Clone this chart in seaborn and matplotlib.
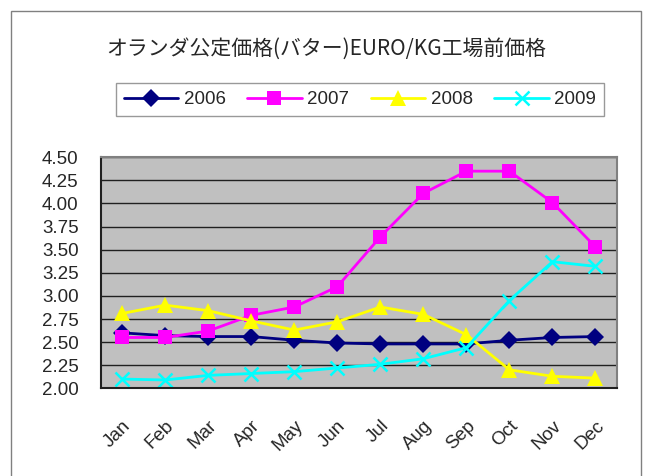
import numpy as np
import pandas as pd
import seaborn as sns
import matplotlib
matplotlib.use("Agg")
import matplotlib.pyplot as plt
from matplotlib.patches import Rectangle
from matplotlib.ticker import FixedLocator
import matplotlib.transforms as mtransforms

months = ["Jan", "Feb", "Mar", "Apr", "May", "Jun", "Jul", "Aug", "Sep", "Oct", "Nov", "Dec"]
years = ["2006", "2007", "2008", "2009"]
v2006 = [2.60, 2.57, 2.56, 2.56, 2.52, 2.49, 2.48, 2.48, 2.48, 2.52, 2.55, 2.56]
v2007 = [2.55, 2.55, 2.62, 2.79, 2.88, 3.10, 3.64, 4.11, 4.35, 4.35, 4.01, 3.53]
v2008 = [2.81, 2.90, 2.84, 2.73, 2.63, 2.72, 2.88, 2.80, 2.58, 2.20, 2.13, 2.11]
v2009 = [2.10, 2.09, 2.14, 2.16, 2.18, 2.22, 2.26, 2.32, 2.44, 2.95, 3.37, 3.32]
yticks = [2.00, 2.25, 2.50, 2.75, 3.00, 3.25, 3.50, 3.75, 4.00, 4.25, 4.50]
title = "オランダ公定価格(バター)EURO/KG工場前価格"

series = {"2006": v2006, "2007": v2007, "2008": v2008, "2009": v2009}
df = pd.DataFrame([(y, m, v) for y in years for m, v in zip(months, series[y])],
                  columns=["year", "month", "value"])

sns.set_theme(style="white")
plt.rcParams["font.family"] = ["Liberation Sans", "Noto Sans CJK JP", "DejaVu Sans"]

colors = {"2006": "#000080", "2007": "#FF00FF", "2008": "#FFFF00", "2009": "#00FFFF"}
mk = {"2006": dict(marker="D", markersize=9, markeredgewidth=0),
      "2007": dict(marker="s", markersize=10, markeredgewidth=0),
      "2008": dict(marker="^", markersize=11, markeredgewidth=0),
      "2009": dict(marker="x", markersize=10, markeredgewidth=1.8)}

fig = plt.figure(figsize=(6.46, 4.76), dpi=100)
fig.patch.set_facecolor("white")
ax = fig.add_axes([100.7 / 646, 1 - 388.3 / 476, (617 - 100.7) / 646, (388.3 - 157.3) / 476])
ax.set_facecolor("#C0C0C0")

for y in years:
    sub = df[df.year == y]
    sns.lineplot(data=sub, x="month", y="value", ax=ax, color=colors[y],
                 linewidth=2.0, markeredgecolor=colors[y], label=y, sort=False, **mk[y])

ax.set_xlim(-0.5, 11.5)
ax.set_ylim(2.0, 4.5)
ax.set_yticks(yticks)
ax.set_yticklabels([f"{t:.2f}" for t in yticks], fontsize=13.5)
ax.yaxis.grid(True, color="#202020", linewidth=1.0)
ax.xaxis.grid(False)
ax.set_axisbelow(True)
ax.set_xlabel("")
ax.set_ylabel("")
ax.tick_params(axis="y", length=0, pad=16)

ax.set_xticks(range(len(months)))
ax.set_xticklabels(months, fontsize=13.5, rotation=45, ha="right", va="center",
                   rotation_mode="anchor")
ax.tick_params(axis="x", which="major", length=0, pad=25)
offset = mtransforms.ScaledTranslation(6 / 100, 0, fig.dpi_scale_trans)
for lab in ax.get_xticklabels():
    lab.set_transform(lab.get_transform() + offset)
ax.xaxis.set_minor_locator(FixedLocator(np.arange(0.5, 11.5, 1.0)))
ax.tick_params(axis="x", which="minor", direction="in", length=5, width=1, color="#202020")

for s in ["top", "right"]:
    ax.spines[s].set_color("#808080")
    ax.spines[s].set_linewidth(1.5)
for s in ["left", "bottom"]:
    ax.spines[s].set_color("#202020")
    ax.spines[s].set_linewidth(1.5)

if ax.legend_:
    ax.legend_.remove()
h, l = ax.get_legend_handles_labels()
leg = fig.legend(h, l, ncol=4, loc="center", bbox_to_anchor=(360 / 646, 1 - 99.5 / 476),
                 frameon=True, fancybox=False, edgecolor="#808080", fontsize=13.5,
                 handlelength=2.9, handletextpad=0.3, columnspacing=1.15,
                 borderpad=0.4, borderaxespad=0)
leg.get_frame().set_linewidth(1.0)

fig.text(326 / 646, 1 - 49 / 476, title, ha="center", va="center", fontsize=15,
         family=["Noto Sans CJK JP", "Liberation Sans"])

fig.add_artist(Rectangle((11.3 / 646, -0.05), (640.7 - 11.3) / 646, 1 - 10.7 / 476 + 0.05,
                         transform=fig.transFigure, fill=False, edgecolor="#808080",
                         linewidth=1.0))

fig.savefig("out.png", dpi=100)
